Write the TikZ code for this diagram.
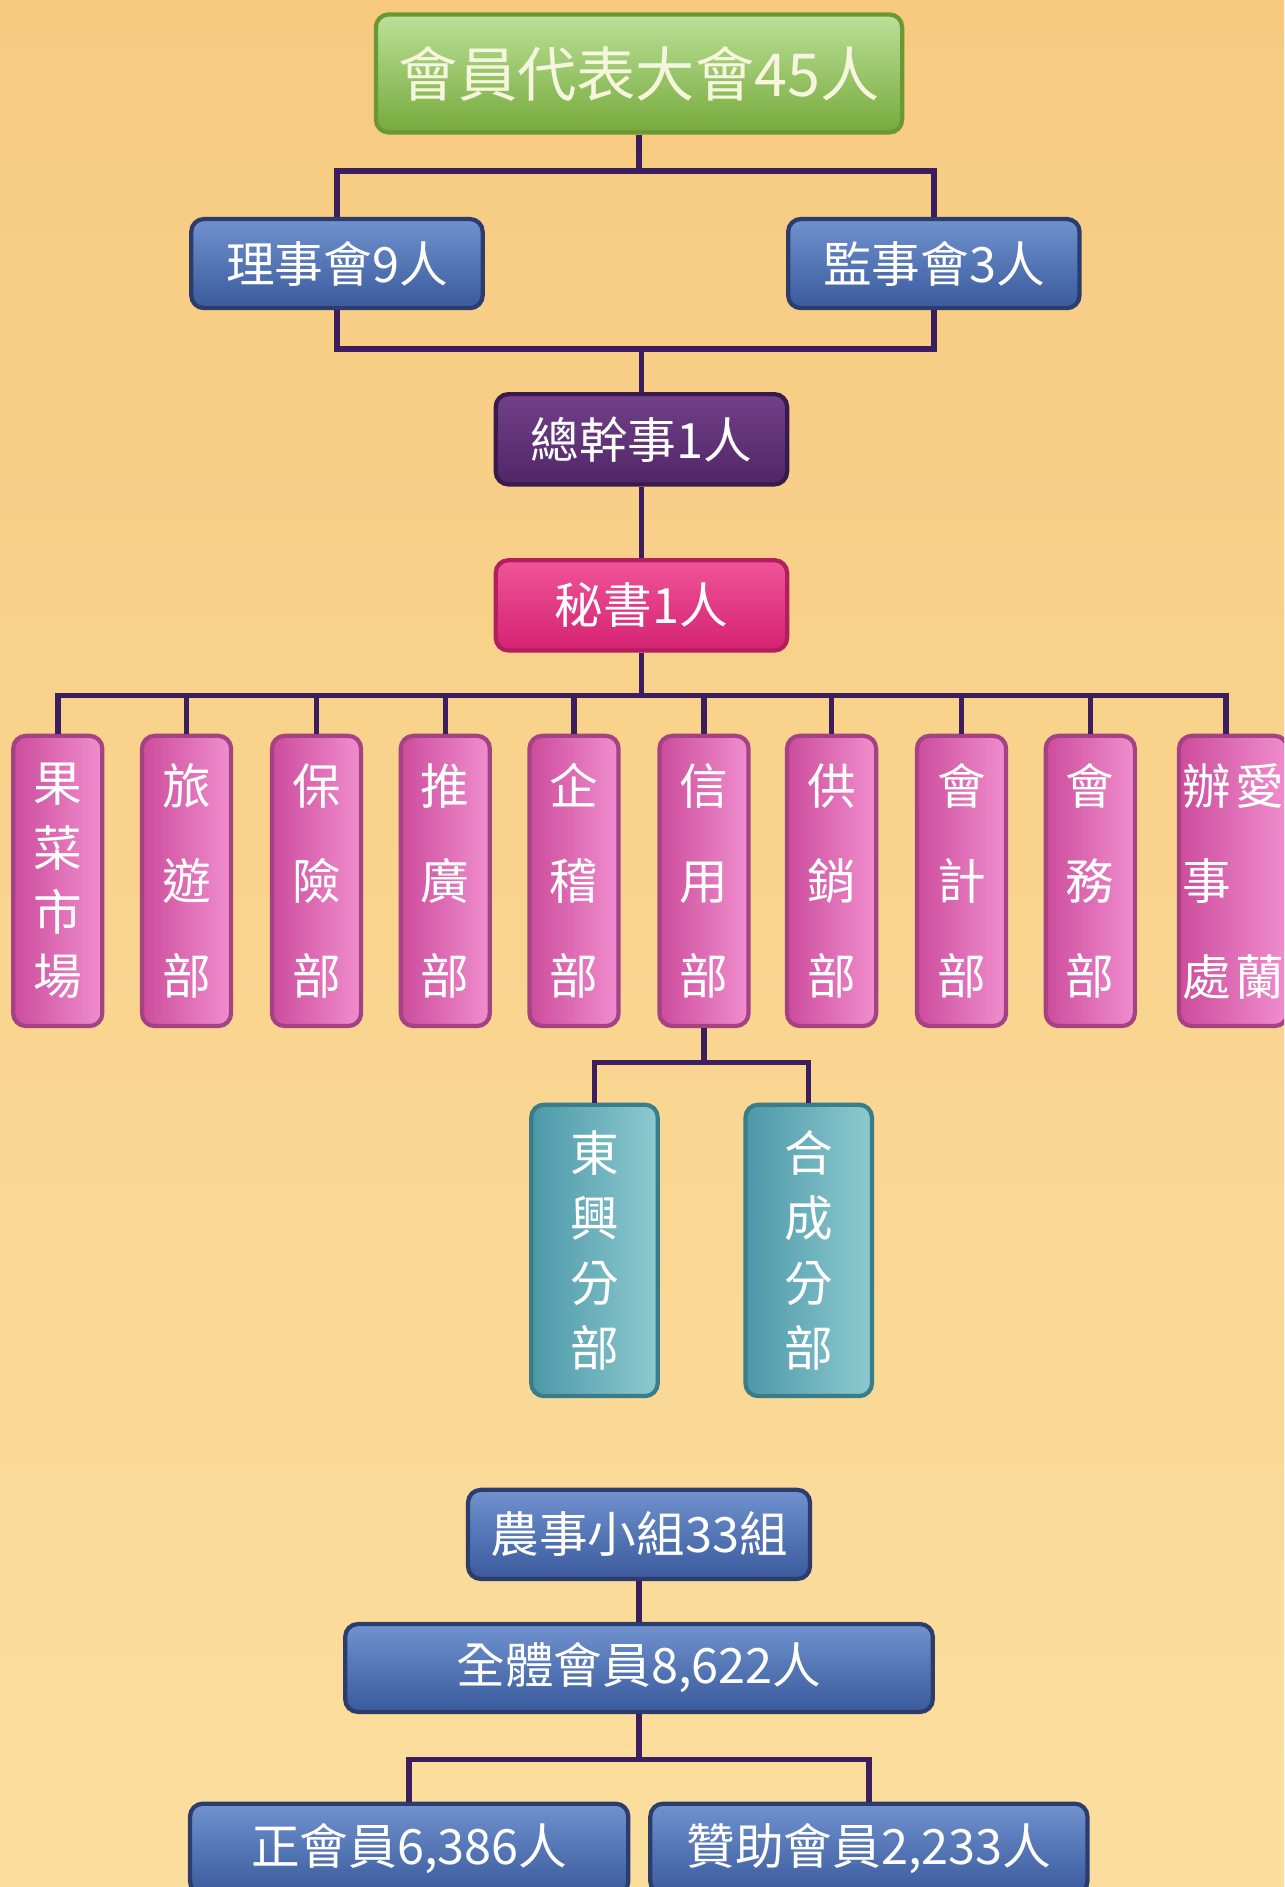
\documentclass[tikz,border=0pt]{standalone}
\usepackage{fontspec}
\newfontfamily\cjk{Noto Sans CJK TC}
\usepackage{xcolor}
\usepackage{tikz}

\definecolor{bgtop}{RGB}{247,202,128}
\definecolor{bgmid}{RGB}{250,214,146}
\definecolor{bgbot}{RGB}{251,222,158}
\definecolor{linkcol}{RGB}{60,30,95}
\definecolor{greentop}{RGB}{188,224,152}
\definecolor{greenbot}{RGB}{118,170,60}
\definecolor{greenline}{RGB}{108,152,52}
\definecolor{bluetop}{RGB}{112,146,206}
\definecolor{bluebot}{RGB}{58,90,156}
\definecolor{blueline}{RGB}{44,60,108}
\definecolor{purptop}{RGB}{114,64,138}
\definecolor{purpbot}{RGB}{80,38,102}
\definecolor{purpline}{RGB}{56,26,76}
\definecolor{magtop}{RGB}{240,84,152}
\definecolor{magbot}{RGB}{212,34,114}
\definecolor{magline}{RGB}{178,30,94}
\definecolor{pinkleft}{RGB}{204,76,156}
\definecolor{pinkright}{RGB}{240,142,206}
\definecolor{pinkline}{RGB}{164,66,132}
\definecolor{tealleft}{RGB}{76,152,168}
\definecolor{tealright}{RGB}{142,202,208}
\definecolor{tealline}{RGB}{58,124,136}
\definecolor{cream}{RGB}{246,246,222}

\tikzset{
  orgbox/.style={rounded corners=3pt, line width=1pt, inner sep=0pt, text=white,
    font=\cjk\fontsize{11.5}{14}\selectfont},
  greenbox/.style={orgbox, top color=greentop, bottom color=greenbot, draw=greenline,
    text=cream, font=\cjk\fontsize{14}{17}\selectfont},
  bluebox/.style={orgbox, top color=bluetop, bottom color=bluebot, draw=blueline},
  purplebox/.style={orgbox, top color=purptop, bottom color=purpbot, draw=purpline},
  magbox/.style={orgbox, top color=magtop, bottom color=magbot, draw=magline},
  dept/.style={orgbox, left color=pinkleft, right color=pinkright, draw=pinkline,
    minimum width=0.74cm, minimum height=2.41cm, align=center},
  deptthree/.style={dept, font=\cjk\fontsize{11.5}{22.5}\selectfont},
  deptfour/.style={dept, font=\cjk\fontsize{11.5}{15.2}\selectfont},
  branch/.style={orgbox, left color=tealleft, right color=tealright, draw=tealline,
    minimum width=1.05cm, minimum height=2.42cm, align=center,
    font=\cjk\fontsize{11.5}{15.4}\selectfont},
  link/.style={draw=linkcol, line width=1.3pt}
}

\begin{document}
\begin{tikzpicture}[x=0.01cm,y=-0.01cm]
  \useasboundingbox (0,0) rectangle (1067,1568);
  \clip (0,0) rectangle (1067,1568);
  \shade[top color=bgtop, middle color=bgmid, bottom color=bgbot]
  (0,0) rectangle (1067,1568);

  \node[greenbox, minimum width=4.37cm, minimum height=0.98cm] (dahui) at (531,61) {會員代表大會45人};
  \node[bluebox, minimum width=2.42cm, minimum height=0.74cm] (lishi) at (280,219) {理事會9人};
  \node[bluebox, minimum width=2.42cm, minimum height=0.74cm] (jianshi) at (776,219) {監事會3人};
  \node[purplebox, minimum width=2.42cm, minimum height=0.75cm] (zongganshi) at (533,365) {總幹事1人};
  \node[magbox, minimum width=2.42cm, minimum height=0.75cm] (mishu) at (533,503) {秘書1人};

  \node[deptfour] (d1) at (48,732) {果\\菜\\市\\場};
  \node[deptthree] (d2) at (155,732) {旅\\遊\\部};
  \node[deptthree] (d3) at (263,732) {保\\險\\部};
  \node[deptthree] (d4) at (370,732) {推\\廣\\部};
  \node[deptthree] (d5) at (477,732) {企\\稽\\部};
  \node[deptthree] (d6) at (585,732) {信\\用\\部};
  \node[deptthree] (d7) at (691,732) {供\\銷\\部};
  \node[deptthree] (d8) at (799,732) {會\\計\\部};
  \node[deptthree] (d9) at (906,732) {會\\務\\部};
  \node[deptthree, minimum width=0.9cm, anchor=west] (d10) at (978,732)
  {\begin{tabular}{@{}c@{\hspace{1pt}}c@{}}辦&愛\\事&\\處&蘭\end{tabular}};

  \node[branch] (dongxing) at (494,1039) {東\\興\\分\\部};
  \node[branch] (hecheng) at (672,1039) {合\\成\\分\\部};

  \node[bluebox, minimum width=2.84cm, minimum height=0.74cm] (nongshi) at (531,1275) {農事小組33組};
  \node[bluebox, minimum width=4.88cm, minimum height=0.73cm] (quanti) at (531,1386) {全體會員8,622人};
  \node[bluebox, minimum width=3.64cm, minimum height=0.75cm, anchor=north] (zheng) at (340,1497) {正會員6,386人};
  \node[bluebox, minimum width=3.63cm, minimum height=0.75cm, anchor=north] (zanzhu) at (722,1497) {贊助會員2,233人};

  \coordinate (busa) at (531,142);
  \draw[link] (dahui.south) -- (busa);
  \draw[link] (lishi.north) |- (busa) -| (jianshi.north);
  \coordinate (busb) at (533,290);
  \draw[link] (lishi.south) |- (busb) -| (jianshi.south);
  \draw[link] (busb) -- (zongganshi.north);
  \draw[link] (zongganshi.south) -- (mishu.north);

  \coordinate (busc) at (533,578);
  \draw[link] (mishu.south) -- (busc);
  \draw[link] (d1.north) |- (busc) -| ([xshift=-0.06cm]d10.north);
  \foreach \i in {2,...,9}
  \draw[link] (d\i.north) -- (d\i.north |- busc);

  \coordinate (busd) at (585,883);
  \draw[link] (d6.south) -- (busd);
  \draw[link] (dongxing.north) |- (busd) -| (hecheng.north);

  \draw[link] (nongshi.south) -- (quanti.north);
  \coordinate (buse) at (531,1462);
  \draw[link] (quanti.south) -- (buse);
  \draw[link] (zheng.north) |- (buse) -| (zanzhu.north);

\end{tikzpicture}
\end{document}
